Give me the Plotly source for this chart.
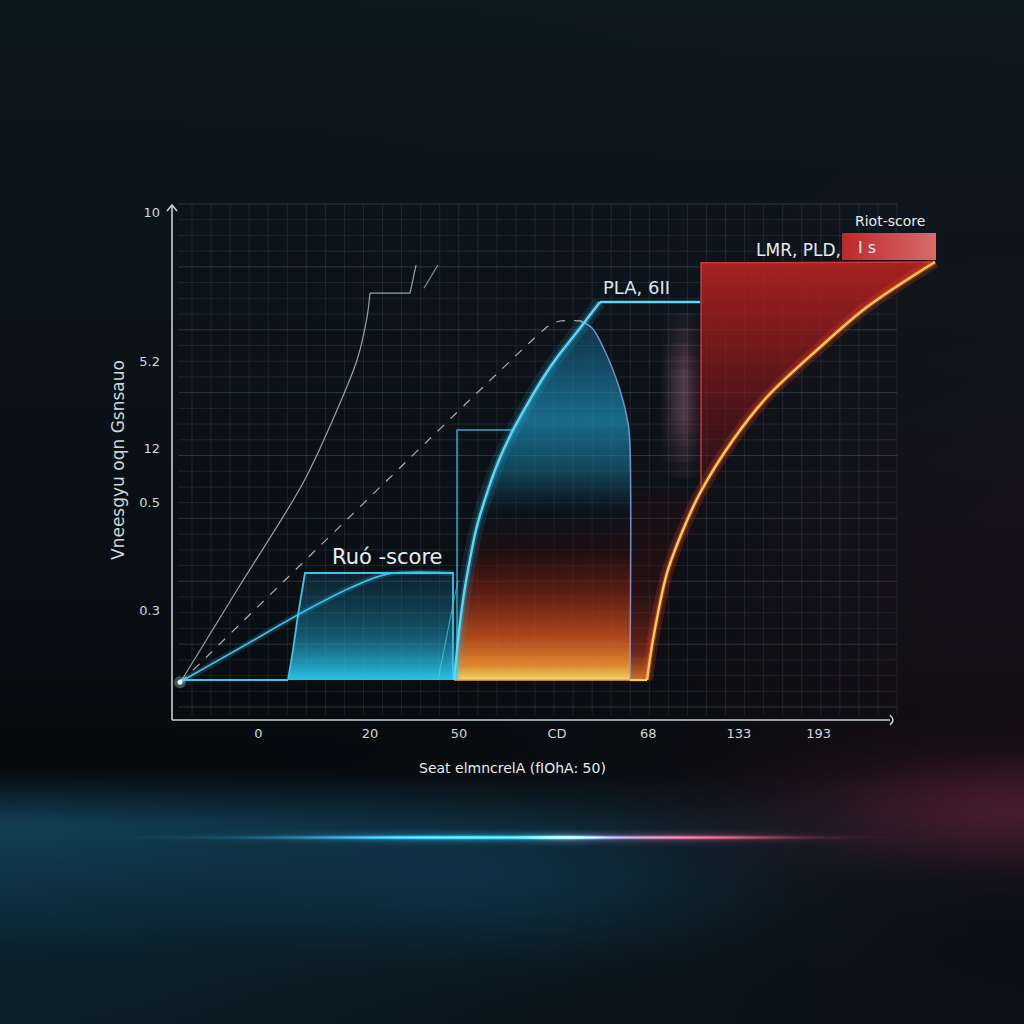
import base64
import struct
import zlib
import numpy as np
import plotly.graph_objects as go

# chart units: x runs 0-100 along the drawn axis, y runs 0-100 up the drawn axis
x_tick_vals = [11.9, 27.3, 39.6, 53.1, 65.7, 78.2, 89.2]
x_tick_text = ["0", "20", "50", "CD", "68", "133", "193"]
y_tick_vals = [98.4, 69.4, 52.7, 42.2, 21.3]
y_tick_text = ["10", "5.2", "12", "0.5", "0.3"]

# thin grey reference line (solid)
ref_x = [1.10, 8.97, 18.07, 22.76, 25.52, 26.90, 27.31]
ref_y = [7.17, 25.19, 45.93, 60.08, 69.77, 78.10, 82.75]
ref_top_x = [27.31, 32.83, 33.66]
ref_top_y = [82.75, 82.75, 88.18]
stub_x = [34.76, 36.69]
stub_y = [83.7, 88.2]

# dashed grey reference line
dash_x = [1.10, 50.76, 52.14, 53.52, 56.55]
dash_y = [7.17, 75.0, 76.55, 77.33, 77.33]

# thin blue "bell" edge
bell_x = [56.28, 57.93, 59.45, 61.79, 62.90, 63.17, 63.17]
bell_y = [77.33, 75.97, 72.29, 63.95, 57.56, 53.29, 7.75]

# main cyan curve  (PLA, 6II)
pla_x = [38.90, 39.45, 40.14, 40.83, 41.93, 43.45, 45.10, 47.03, 49.10, 51.17, 53.24, 55.31, 57.24, 59.03]
pla_y = [7.75, 15.50, 23.26, 29.07, 36.82, 43.99, 50.39, 56.20, 61.43, 66.28, 70.54, 74.22, 77.71, 81.01]
pla_end_x = 72.83

# faint cyan edge at the foot of the main curve
edge_x = [36.69, 37.79, 38.62, 39.45]
edge_y = [7.75, 15.5, 21.32, 27.13]

# lower cyan curve
low_x = [1.10, 9.38, 18.07, 24.55, 29.66, 38.76]
low_y = [7.36, 13.95, 20.93, 25.58, 28.29, 28.49]

# "score" block
block_x = [16.0, 16.69, 17.38, 18.34, 38.76, 38.76, 16.0]
block_y = [7.75, 13.57, 20.35, 28.49, 28.49, 7.75, 7.75]

# second thin cyan box
box2_x = [39.31, 39.31, 47.03]
box2_y = [7.75, 56.2, 56.2]

# yellow curve (LMR, PLD)
lmr_x = [63.17, 65.52, 66.34, 68.28, 70.48, 72.83, 77.38, 82.07, 88.97, 95.86, 105.24]
lmr_y = [7.75, 7.75, 15.50, 28.49, 36.82, 43.99, 54.26, 62.60, 71.71, 80.04, 88.76]

red_left_x = 72.97
red_top_y = 88.6
red_knee_y = 43.99
label_box_x = [92.41, 105.38]
label_box_y = [89.15, 94.38]
glow_col_x = [67.4, 72.8]
glow_col_mid = 63.0
glow_col_half = [16.0, 13.0, 10.0, 7.5, 5.0]
baseline_y = 7.75
origin = (1.10, 7.3)

X_MAX = 108.69
Y_MAX = 100.78


def background_uri(size=1024):
    yy, xx = np.mgrid[0:size, 0:size].astype(float)
    img = np.zeros((size, size, 3))
    knots = [0, 250, 600, 770, 1024]
    base = [(13, 25, 32), (11, 20, 26), (9, 15, 19), (7, 11, 14), (9, 17, 23)]
    for c in range(3):
        img[..., c] = np.interp(yy, knots, [b[c] for b in base])

    def blob(cx, cy, sx, sy, col):
        g = np.exp(-((xx - cx) / sx) ** 2 - ((yy - cy) / sy) ** 2)
        img[...] += g[..., None] * np.array(col, dtype=float)

    blob(1024, 560, 380, 330, (12, 2, 5))
    band = np.clip((yy - 772) / 50, 0, 1) * np.interp(yy, [830, 960, 1024], [1, 0.35, 0.25])
    img += (band * np.exp(-((xx + 50) / 560) ** 2))[..., None] * np.array((10, 50, 68))
    blob(520, 880, 240, 70, (4, 20, 28))
    blob(1024, 810, 210, 50, (55, 14, 24))
    # thin light streak
    prof = np.exp(-((yy - 837) / 1.5) ** 2) + 0.3 * np.exp(-((yy - 837) / 5) ** 2)
    streak = (np.exp(-((xx - 470) / 170) ** 2)[..., None] * np.array((60, 190, 235))
              + np.exp(-((xx - 690) / 100) ** 2)[..., None] * np.array((190, 45, 65))
              + np.exp(-((xx - 565) / 35) ** 2)[..., None] * np.array((100, 90, 110)))
    img += prof[..., None] * streak
    arr = np.clip(img, 0, 255).astype(np.uint8)

    h, w = arr.shape[:2]
    prev = np.vstack([np.zeros((1, w, 3), np.int16), arr[:-1].astype(np.int16)])
    filt = ((arr.astype(np.int16) - prev) % 256).astype(np.uint8).reshape(h, w * 3)
    raw = np.hstack([np.full((h, 1), 2, np.uint8), filt]).tobytes()

    def chunk(tag, data):
        return struct.pack('>I', len(data)) + tag + data + struct.pack('>I', zlib.crc32(tag + data) & 0xffffffff)

    png = (b'\x89PNG\r\n\x1a\n' + chunk(b'IHDR', struct.pack('>IIBBBBB', w, h, 8, 2, 0, 0, 0))
           + chunk(b'IDAT', zlib.compress(raw, 9)) + chunk(b'IEND', b''))
    return 'data:image/png;base64,' + base64.b64encode(png).decode()


fig = go.Figure()


def poly(xs, ys, grad_type, scale, shape='linear'):
    fig.add_trace(go.Scatter(x=xs, y=ys, mode='lines', fill='toself',
                             line=dict(width=0, shape=shape, smoothing=0.7),
                             fillgradient=dict(type=grad_type, colorscale=scale), hoverinfo='skip'))


def line(xs, ys, color, width, dash='solid', shape='linear'):
    fig.add_trace(go.Scatter(x=xs, y=ys, mode='lines',
                             line=dict(color=color, width=width, dash=dash, shape=shape, smoothing=0.9),
                             hoverinfo='skip'))


# warm / cyan body between the main curve and the bell edge
warm_x = pla_x[:13] + bell_x[1:]
warm_y = pla_y[:13] + bell_y[1:]
poly(warm_x, warm_y, 'vertical', [
    [0.0, 'rgba(252,225,110,0.95)'], [0.04, 'rgba(245,150,50,0.9)'], [0.12, 'rgba(215,85,30,0.8)'],
    [0.24, 'rgba(130,35,18,0.7)'], [0.36, 'rgba(45,14,14,0.55)'], [0.46, 'rgba(12,20,28,0.4)'],
    [0.58, 'rgba(20,105,135,0.6)'], [0.72, 'rgba(30,145,185,0.7)'], [0.88, 'rgba(25,110,150,0.6)'],
    [1.0, 'rgba(20,80,110,0.5)']])

# red block left of the yellow curve
red_x = [red_left_x] + lmr_x[::-1] + [lmr_x[0], red_left_x, red_left_x]
red_y = [red_top_y] + lmr_y[::-1] + [red_knee_y, red_knee_y, red_top_y]
poly(red_x, red_y, 'vertical', [
    [0.0, 'rgba(235,130,45,0.85)'], [0.07, 'rgba(170,50,25,0.6)'], [0.22, 'rgba(70,16,18,0.4)'],
    [0.45, 'rgba(45,12,16,0.25)'], [0.5, 'rgba(90,18,22,0.45)'], [0.7, 'rgba(130,24,26,0.65)'],
    [0.88, 'rgba(165,30,30,0.8)'], [1.0, 'rgba(190,36,33,0.86)']])

# pale glow column, stacked for a soft vertical fade
gx0, gx1 = glow_col_x
for half in glow_col_half:
    gy0, gy1 = glow_col_mid - half, glow_col_mid + half
    poly([gx0, gx1, gx1, gx0, gx0], [gy0, gy0, gy1, gy1, gy0], 'horizontal', [
        [0.0, 'rgba(200,130,155,0)'], [0.6, 'rgba(210,140,165,0.08)'], [1.0, 'rgba(170,60,80,0.03)']])

# cyan score block
poly(block_x, block_y, 'vertical', [
    [0.0, 'rgba(45,215,250,0.9)'], [0.4, 'rgba(30,150,190,0.55)'], [1.0, 'rgba(20,80,110,0.3)']])

# red label box
bx0, bx1 = label_box_x
by0, by1 = label_box_y
poly([bx0, bx1, bx1, bx0, bx0], [by0, by0, by1, by1, by0], 'horizontal', [
    [0.0, 'rgba(200,40,40,0.95)'], [1.0, 'rgba(232,115,115,0.92)']])

# glows
line(pla_x, pla_y, 'rgba(40,190,240,0.12)', 14, shape='spline')
line(pla_x, pla_y, 'rgba(60,200,245,0.25)', 6, shape='spline')
line(lmr_x[1:], lmr_y[1:], 'rgba(255,70,30,0.2)', 12, shape='spline')
line(lmr_x[1:], lmr_y[1:], 'rgba(255,110,40,0.35)', 5, shape='spline')
line(low_x, low_y, 'rgba(40,190,240,0.18)', 6, shape='spline')

# lines
line(ref_x, ref_y, 'rgba(200,210,215,0.75)', 1.2, shape='spline')
line(ref_top_x, ref_top_y, 'rgba(200,210,215,0.75)', 1.2)
line(stub_x, stub_y, 'rgba(200,210,215,0.6)', 1.2)
line(dash_x, dash_y, 'rgba(210,215,220,0.8)', 1.2, 'dash', shape='spline')
line(bell_x, bell_y, 'rgba(140,165,225,0.85)', 1.5, shape='spline')
line(edge_x, edge_y, 'rgba(90,210,240,0.6)', 1.2, shape='spline')
line(box2_x, box2_y, 'rgba(70,190,225,0.85)', 1.5)
line(low_x, low_y, '#3cc0e6', 1.8, shape='spline')
line(block_x[:6], block_y[:6], '#3cc4ea', 1.8)
line([origin[0], block_x[-1]], [baseline_y, baseline_y], '#3cc4ea', 1.8)
line([pla_x[0], bell_x[-1]], [baseline_y, baseline_y], '#f3a545', 1.6)
line([red_left_x, red_left_x, lmr_x[-1]], [red_knee_y, red_top_y, lmr_y[-1]], 'rgba(225,55,55,0.9)', 1.5)
line(pla_x, pla_y, '#5ad9f7', 2.4, shape='spline')
line([pla_x[-1], pla_end_x], [pla_y[-1], pla_y[-1]], '#5ad9f7', 2.4)
line(lmr_x[:2], lmr_y[:2], '#f8cf4c', 2.2)
line(lmr_x[1:], lmr_y[1:], '#f8cf4c', 2.4, shape='spline')

fig.add_trace(go.Scatter(x=[origin[0]], y=[origin[1]], mode='markers', cliponaxis=False,
                         marker=dict(size=12, color='rgba(200,240,255,0.3)'), hoverinfo='skip'))
fig.add_trace(go.Scatter(x=[origin[0]], y=[origin[1]], mode='markers', cliponaxis=False,
                         marker=dict(size=5, color='#eaf8ff'), hoverinfo='skip'))

# grid + axes
grid_col = 'rgba(140,165,175,0.14)'
shapes = []
for gx in np.linspace(2.76, 100, 38):
    shapes.append(dict(type='line', xref='x', yref='y', x0=gx, x1=gx, y0=0.97, y1=100,
                       line=dict(color=grid_col, width=1), layer='below'))
grid_y = np.linspace(2.52, 100, 33)
for i, gy in enumerate(grid_y):
    col = 'rgba(150,180,190,0.24)' if (len(grid_y) - 1 - i) % 4 == 0 else grid_col
    shapes.append(dict(type='line', xref='x', yref='y', x0=0.83, x1=100, y0=gy, y1=gy,
                       line=dict(color=col, width=1), layer='below'))
axis_col = '#c9d1d6'
y_top = 99.8 / Y_MAX
x_end = 99.03 / X_MAX
shapes.append(dict(type='line', xref='paper', yref='paper', x0=0, x1=0, y0=0, y1=y_top,
                   line=dict(color=axis_col, width=1.6)))
shapes.append(dict(type='line', xref='paper', yref='paper', x0=0, x1=x_end, y0=0, y1=0,
                   line=dict(color=axis_col, width=1.6)))
shapes.append(dict(type='path', xref='paper', yref='paper', xsizemode='pixel', ysizemode='pixel',
                   xanchor=0, yanchor=y_top, path='M -5 -6 L 0 0 L 5 -6',
                   line=dict(color=axis_col, width=1.6)))
shapes.append(dict(type='path', xref='paper', yref='paper', xsizemode='pixel', ysizemode='pixel',
                   xanchor=x_end, yanchor=0, path='M 0 -5 Q 6 0 0 5',
                   line=dict(color=axis_col, width=1.6)))

txt = '#e6ecef'
annotations = [
    dict(x=29.79, y=31.59, text='Ruó -score', font=dict(size=21, color=txt)),
    dict(x=64.0, y=83.9, text='PLA, 6II', font=dict(size=18, color='#d8e6ec')),
    dict(x=92.55, y=91.1, text='LMR, PLD,', xanchor='right', font=dict(size=17, color=txt)),
    dict(x=95.9, y=91.6, text='I s', font=dict(size=16, color=txt)),
    dict(x=99.03, y=96.7, text='Riot-score', font=dict(size=14, color=txt)),
    dict(x=46.9, y=0, yshift=-48, text='Seat elmncrelA (fIOhA: 50)', font=dict(size=14, color=txt)),
    dict(x=0, y=50.4, xshift=-54, textangle=-90, text='Vneesgyu oqn Gsnsauo',
         font=dict(size=17, color='#cfd7db')),
]
for a in annotations:
    a.update(xref='x', yref='y', showarrow=False)

fig.update_layout(
    width=1024, height=1024,
    margin=dict(l=172, r=64, t=200, b=304),
    paper_bgcolor='#0a1116', plot_bgcolor='rgba(0,0,0,0)',
    showlegend=False,
    font=dict(family='DejaVu Sans, sans-serif', color='#cfd7db'),
    xaxis=dict(range=[0, X_MAX], showgrid=False, zeroline=False, showline=False,
               tickmode='array', tickvals=x_tick_vals, ticktext=x_tick_text, ticks='',
               tickfont=dict(size=13, color='#cfd7db'), ticklabelstandoff=4, fixedrange=True),
    yaxis=dict(range=[0, Y_MAX], showgrid=False, zeroline=False, showline=False,
               tickmode='array', tickvals=y_tick_vals, ticktext=y_tick_text, ticks='',
               tickfont=dict(size=13, color='#cfd7db'), ticklabelstandoff=11, fixedrange=True),
    shapes=shapes,
    annotations=annotations,
    images=[dict(source=background_uri(), xref='paper', yref='paper',
                 x=-172 / 788, y=1 + 200 / 520, sizex=1024 / 788, sizey=1024 / 520,
                 xanchor='left', yanchor='top', sizing='stretch', layer='below')],
)

fig.write_html("out.html", config={'displayModeBar': False},
               post_script="document.body.style.margin='0';"
                           "document.body.style.background='#0a1116';")
